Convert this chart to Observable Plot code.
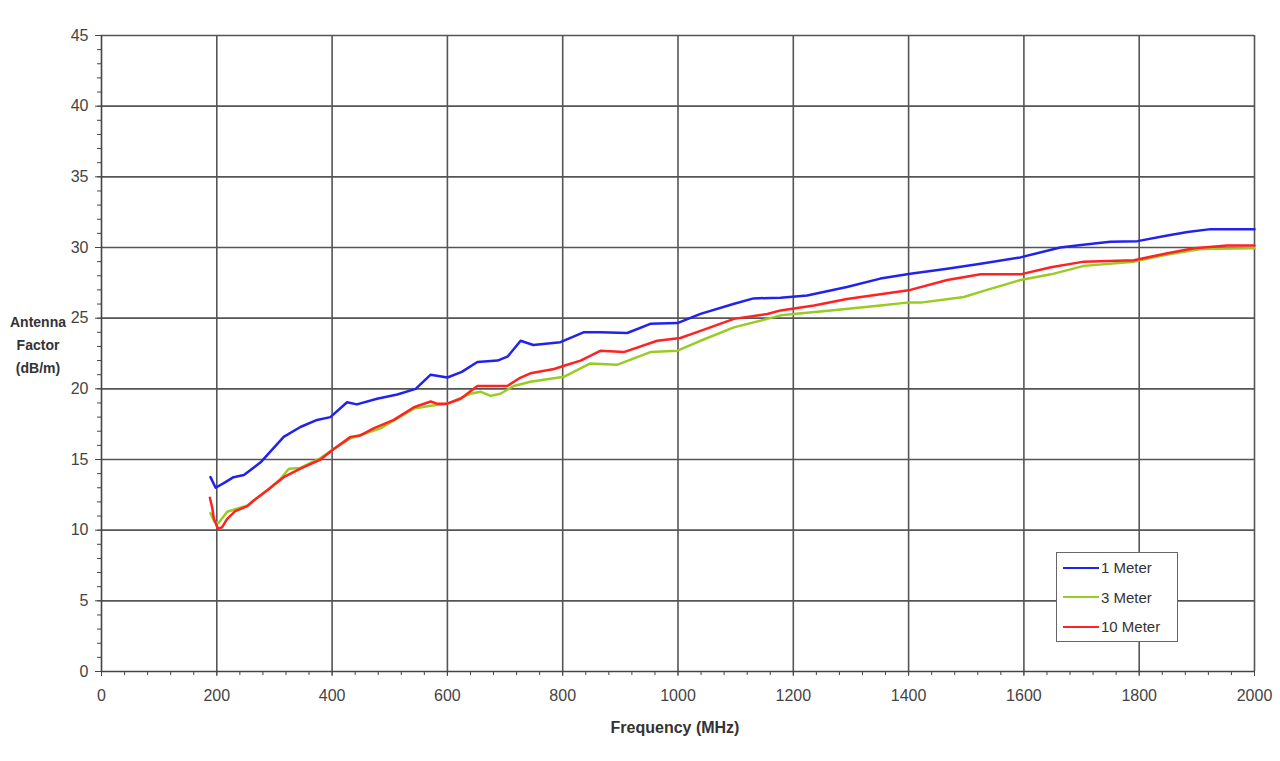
<!DOCTYPE html>
<html>
<head>
<meta charset="utf-8">
<script src="https://cdn.jsdelivr.net/npm/d3@7"></script>
<script src="https://cdn.jsdelivr.net/npm/@observablehq/plot@0.6"></script>
<style>
  body { margin: 0; background: #fff; font-family: "Liberation Sans", Arial, sans-serif; }
  #wrap { position: relative; width: 1280px; height: 761px; }
  #ytitle { position: absolute; left: 0px; top: 311px; width: 76px; text-align: center; font-weight: bold; font-size: 14px; line-height: 23px; color: #333; }
  #xtitle { position: absolute; left: 0; width: 1350px; top: 719px; text-align: center; font-weight: bold; font-size: 16px; color: #333; }
  #legend { position: absolute; left: 1056px; top: 552px; width: 120px; height: 88px; border: 1.5px solid #666; background: #fff; font-size: 15px; color: #333; }
  .li { position: absolute; left: 6px; display: flex; align-items: center; }
  .sw { width: 36px; height: 0; border-top: 2.5px solid; margin-right: 2px; }
</style>
</head>
<body>
<div id="wrap">
  <div id="chart"></div>
  <div id="ytitle">Antenna<br>Factor<br>(dB/m)</div>
  <div id="xtitle">Frequency (MHz)</div>
  <div id="legend"></div>
</div>
<script>
const seriesNames = ["1 Meter", "3 Meter", "10 Meter"];
const seriesColors = ["#2222ee", "#99cc22", "#ff2222"];

const freq1m = [189,198,215,229,247,276,316,345,374,397,426,443,478,513,545,571,600,625,652,687,705,727,749,796,836,866,912,952,999,1039,1096,1131,1178,1224,1293,1351,1403,1467,1525,1594,1663,1703,1750,1797,1849,1884,1924,2000];
const af1m = [13.75,13.0,13.4,13.75,13.9,14.8,16.6,17.3,17.8,18.0,19.05,18.9,19.3,19.6,20.0,21.0,20.8,21.2,21.9,22.0,22.3,23.4,23.1,23.3,24.0,24.0,23.95,24.6,24.65,25.3,26.0,26.4,26.45,26.6,27.2,27.8,28.15,28.5,28.85,29.3,30.0,30.2,30.4,30.45,30.85,31.1,31.3,31.3];

const freq3m = [189,196,203,218,253,264,287,310,325,345,380,403,432,455,484,542,571,600,640,657,675,692,715,744,802,848,894,952,999,1039,1097,1155,1178,1265,1351,1397,1421,1496,1536,1594,1647,1704,1791,1849,1907,2000];
const af3m = [11.2,10.6,10.5,11.3,11.75,12.1,12.8,13.6,14.35,14.4,15.1,15.75,16.5,16.8,17.2,18.6,18.8,18.95,19.65,19.8,19.5,19.65,20.2,20.5,20.85,21.8,21.7,22.6,22.7,23.4,24.35,24.95,25.2,25.55,25.9,26.1,26.1,26.5,27.0,27.7,28.1,28.7,29.0,29.5,29.9,29.95];

const freq10m = [188,192,195,202,209,218,232,253,264,287,316,345,380,403,432,449,472,507,542,571,582,600,623,652,704,727,744,785,808,831,866,906,964,1004,1039,1097,1155,1178,1236,1293,1351,1403,1467,1525,1594,1647,1704,1791,1849,1895,1953,2000];
const af10m = [12.3,11.6,10.8,10.1,10.2,10.8,11.35,11.7,12.1,12.8,13.75,14.35,15.0,15.75,16.6,16.7,17.2,17.8,18.7,19.1,18.95,18.95,19.3,20.2,20.2,20.8,21.1,21.4,21.7,22.0,22.7,22.6,23.4,23.6,24.1,24.95,25.3,25.55,25.9,26.35,26.7,27.0,27.7,28.1,28.1,28.6,29.0,29.1,29.6,29.95,30.15,30.15];

const xMajor = d3.range(0, 2001, 200);
const xMinor = d3.range(0, 2001, 40);
const yMajor = d3.range(0, 46, 5);
const yMinor = d3.range(0, 46, 1);

const toRows = (fs, vs, name) => fs.map((f, i) => ({f, v: vs[i], name}));
const allSeries = [
  toRows(freq1m, af1m, seriesNames[0]),
  toRows(freq3m, af3m, seriesNames[1]),
  toRows(freq10m, af10m, seriesNames[2])
];

const grid = "#555";
const fmt = d3.format("d");
const chart = Plot.plot({
  width: 1280, height: 761,
  marginLeft: 101, marginRight: 26, marginTop: 35, marginBottom: 90,
  x: {domain: [0, 2000]},
  y: {domain: [0, 45]},
  style: {fontFamily: "Liberation Sans, Arial, sans-serif", fontSize: "16px", color: "#444", background: "#fff"},
  marks: [
    Plot.ruleX(xMajor.filter(d => d > 0), {stroke: grid, strokeWidth: 1.6}),
    Plot.ruleY(yMajor.filter(d => d > 0), {stroke: grid, strokeWidth: 1.6}),
    Plot.axisX({ticks: xMinor, tickSize: 4, tickFormat: () => "", label: null, stroke: "#444"}),
    Plot.axisX({ticks: xMajor, tickSize: 5, tickPadding: 13, tickFormat: fmt, label: null, stroke: "#444", fill: "#444"}),
    Plot.axisY({ticks: yMinor, tickSize: 4, tickFormat: () => "", label: null, stroke: "#444"}),
    Plot.axisY({ticks: yMajor, tickSize: 6, tickPadding: 7, tickFormat: fmt, label: null, stroke: "#444", fill: "#444"}),
    Plot.ruleX([0], {stroke: "#444", strokeWidth: 1.6}),
    Plot.ruleY([0], {stroke: "#444", strokeWidth: 1.6}),
    ...allSeries.map((rows, i) => Plot.line(rows, {x: "f", y: "v", stroke: seriesColors[i], strokeWidth: 2.5}))
  ]
});
document.getElementById("chart").appendChild(chart);

const legend = document.getElementById("legend");
seriesNames.forEach((n, i) => {
  const d = document.createElement("div");
  d.className = "li";
  d.style.top = (6 + i * 29.5) + "px";
  d.innerHTML = `<span class="sw" style="border-color:${seriesColors[i]}"></span><span>${n}</span>`;
  legend.appendChild(d);
});
</script>
</body>
</html>
